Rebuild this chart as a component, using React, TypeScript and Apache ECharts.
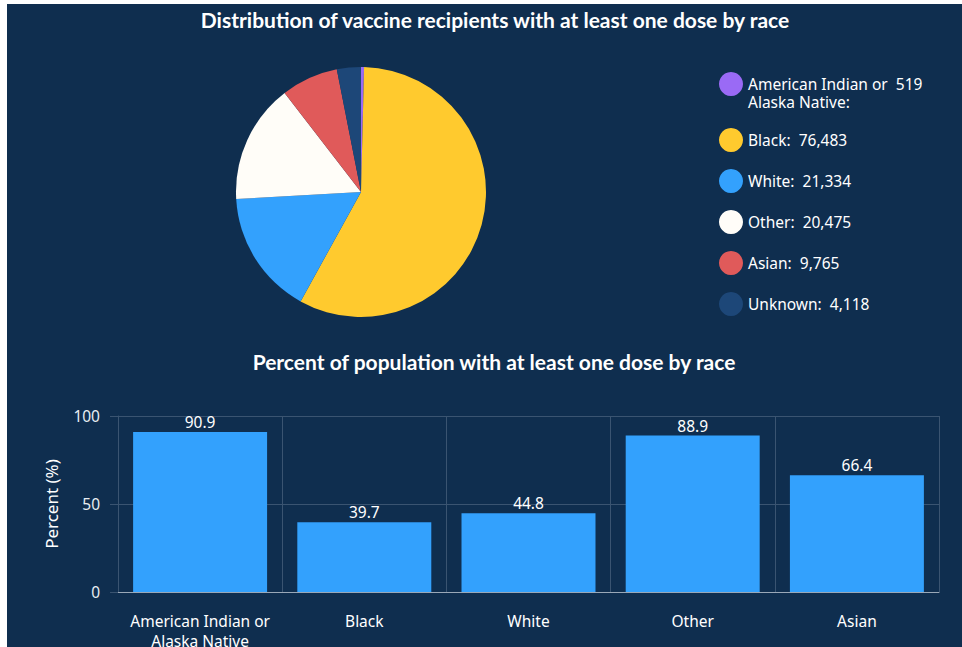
import React, { useEffect, useRef } from "react";
import * as echarts from "echarts";

const pieNames = [
  "American Indian or\nAlaska Native",
  "Black",
  "White",
  "Other",
  "Asian",
  "Unknown",
];
const pieValues = [519, 76483, 21334, 20475, 9765, 4118];
const pieColors = ["#9a6af5", "#ffca2e", "#33a1fd", "#fffdf8", "#e05a5a", "#1d4778"];

const barCategories = ["American Indian or\nAlaska Native", "Black", "White", "Other", "Asian"];
const barValues = [90.9, 39.7, 44.8, 88.9, 66.4];
const yTicks = [0, 50, 100];

const pieTitle = "Distribution of vaccine recipients with at least one dose by race";
const barTitle = "Percent of population with at least one dose by race";
const yAxisName = "Percent (%)";

const BG = "#0f2e4f";
const GRID = "#3a5471";

export default function App() {
  const ref = useRef<HTMLDivElement>(null);
  useEffect(() => {
    if (!ref.current) return;
    const chart = echarts.init(ref.current, null, { renderer: "svg" });
    const fmt = (name: string) => {
      const i = pieNames.indexOf(name);
      const v = pieValues[i].toLocaleString("en-US");
      const lines = name.split("\n");
      if (lines.length > 1) {
        lines[0] = lines[0] + "  " + v;
        lines[lines.length - 1] = lines[lines.length - 1] + ":";
        return "\n" + lines.join("\n");
      }
      return name + ":  " + v;
    };
    const legendText = { color: "#ffffff", fontSize: 15.5, fontFamily: "Noto Sans", lineHeight: 18 };
    chart.setOption({
      animation: false,
      backgroundColor: BG,
      title: [
        {
          text: pieTitle,
          left: 488,
          top: 5,
          padding: 0,
          textAlign: "center",
          textStyle: { color: "#ffffff", fontSize: 21, fontWeight: "bold", fontFamily: "Lato" },
        },
        {
          text: barTitle,
          left: 487,
          top: 347,
          padding: 0,
          textAlign: "center",
          textStyle: { color: "#ffffff", fontSize: 21, fontWeight: "bold", fontFamily: "Lato" },
        },
      ],
      legend: [
        {
          orient: "vertical",
          left: 712,
          top: 53,
          padding: 0,
          itemWidth: 24,
          itemHeight: 24,
          icon: "circle",
          data: [pieNames[0]],
          formatter: fmt,
          textStyle: legendText,
        },
        {
          orient: "vertical",
          left: 712,
          top: 124,
          padding: 0,
          itemGap: 17,
          itemWidth: 24,
          itemHeight: 24,
          icon: "circle",
          data: pieNames.slice(1),
          formatter: fmt,
          textStyle: legendText,
        },
      ],
      grid: { left: 111, right: 23, top: 412, bottom: 55, containLabel: false, outerBoundsMode: "none" },
      xAxis: {
        type: "category",
        data: barCategories,
        axisLine: { lineStyle: { color: "#9aa8b8", width: 1 } },
        axisTick: { alignWithLabel: true, length: 5, lineStyle: { color: "#7d8fa3" } },
        axisLabel: {
          color: "#ffffff",
          fontSize: 15.5,
          fontFamily: "Noto Sans",
          margin: 19,
          lineHeight: 20,
          interval: 0,
        },
        splitLine: { show: true, interval: 0, lineStyle: { color: GRID } },
      },
      yAxis: {
        type: "value",
        min: yTicks[0],
        max: yTicks[yTicks.length - 1],
        interval: yTicks[1] - yTicks[0],
        name: yAxisName,
        nameLocation: "middle",
        nameGap: 58,
        nameTextStyle: { color: "#ffffff", fontSize: 17, fontFamily: "Noto Sans" },
        axisLine: { show: true, lineStyle: { color: GRID } },
        axisTick: { show: true, length: 8, lineStyle: { color: GRID } },
        axisLabel: { color: "#e8edf2", fontSize: 15.5, fontFamily: "Noto Sans", margin: 18 },
        splitLine: { show: true, lineStyle: { color: GRID } },
      },
      series: [
        {
          type: "pie",
          center: [354, 188],
          radius: 125,
          startAngle: 90,
          clockwise: true,
          label: { show: false },
          labelLine: { show: false },
          emphasis: { disabled: true },
          data: pieNames.map((n, i) => ({ name: n, value: pieValues[i], itemStyle: { color: pieColors[i] } })),
        },
        {
          type: "bar",
          data: barValues,
          barWidth: "81.6%",
          itemStyle: { color: "#33a1fd" },
          label: {
            show: true,
            position: "top",
            distance: 2,
            color: "#ffffff",
            fontSize: 15.5,
            fontFamily: "Noto Sans",
          },
        },
      ],
    });
    return () => chart.dispose();
  }, []);
  return (
    <div
      ref={ref}
      style={{ position: "absolute", left: 7, top: 4, width: 955, height: 643 }}
    />
  );
}
